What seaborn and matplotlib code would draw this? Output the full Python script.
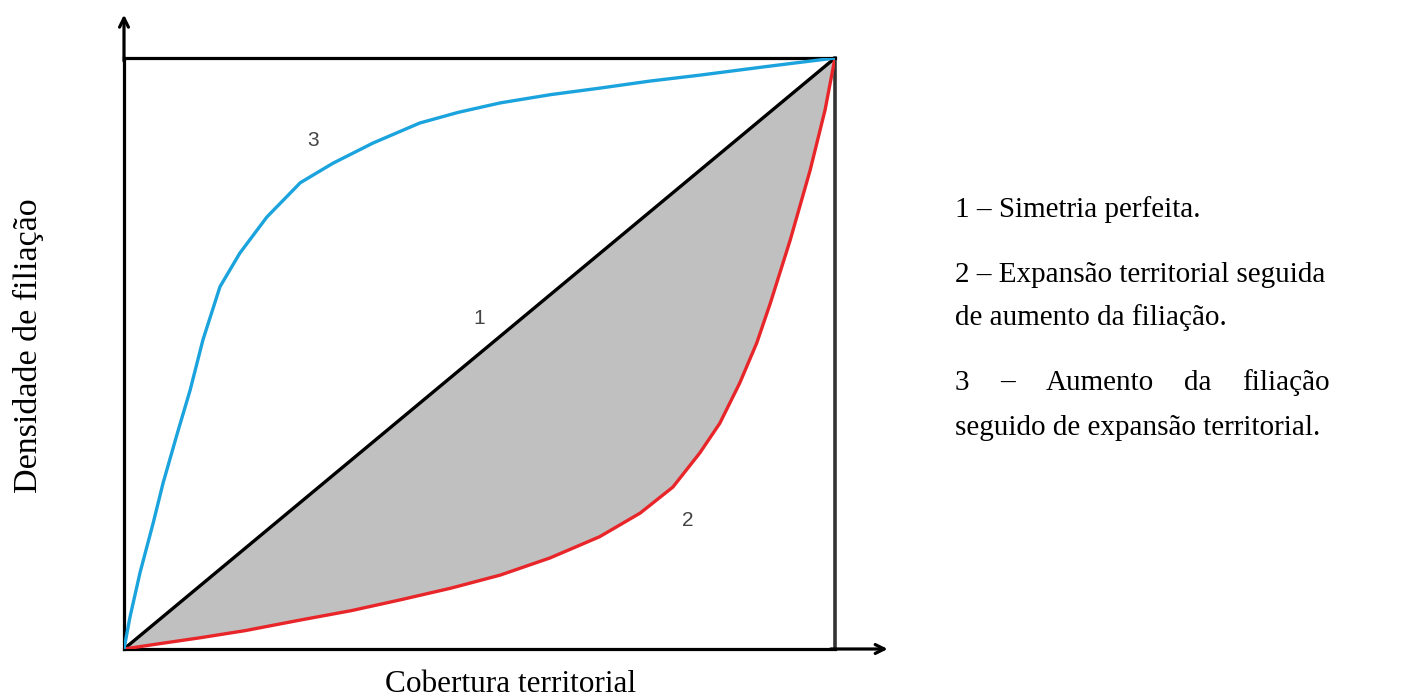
import numpy as np
import pandas as pd
import matplotlib
matplotlib.use("Agg")
import matplotlib.pyplot as plt
import seaborn as sns

# curves (fraction of box, 0..1)
diag_x = [0.0, 1.0]
diag_y = [0.0, 1.0]

red_x = [0.0, 0.05, 0.107, 0.17, 0.248, 0.32, 0.388, 0.46, 0.529, 0.599, 0.669, 0.726,
         0.772, 0.810, 0.838, 0.866, 0.890, 0.909, 0.937, 0.965, 0.986, 1.0]
red_y = [0.0, 0.009, 0.019, 0.031, 0.049, 0.065, 0.083, 0.103, 0.125, 0.154, 0.190, 0.230,
         0.274, 0.332, 0.382, 0.450, 0.518, 0.585, 0.692, 0.810, 0.912, 1.0]

blue_x = [0.0, 0.0084, 0.0225, 0.041, 0.055, 0.075, 0.093, 0.111, 0.135, 0.163,
          0.201, 0.248, 0.294, 0.350, 0.416, 0.47, 0.529, 0.60, 0.669, 0.74, 0.810, 0.90, 1.0]
blue_y = [0.0, 0.054, 0.129, 0.213, 0.281, 0.365, 0.438, 0.523, 0.613, 0.670,
          0.731, 0.789, 0.822, 0.856, 0.890, 0.908, 0.924, 0.938, 0.949, 0.961, 0.971, 0.985, 1.0]

curve_names = ["1", "2", "3"]
curve_colors = ["#000000", "#e8262a", "#1aa3dc"]
label_pos = [(0.50, 0.56), (0.793, 0.218), (0.266, 0.861)]

legend_lines = [
    "1 – Simetria perfeita.",
    "2 – Expansão territorial seguida",
    "de aumento da filiação.",
    "3 – Aumento da filiação",
    "seguido de expansão territorial.",
]
justified = [False, False, False, True, False]
xlabel = "Cobertura territorial"
ylabel = "Densidade de filiação"

df = pd.concat([
    pd.DataFrame({"x": diag_x, "y": diag_y, "curva": "1"}),
    pd.DataFrame({"x": red_x, "y": red_y, "curva": "2"}),
    pd.DataFrame({"x": blue_x, "y": blue_y, "curva": "3"}),
])

sns.set_theme(style="white")
plt.rcParams["font.family"] = ["Liberation Serif", "DejaVu Serif"]
plt.rcParams["text.color"] = "black"

fig = plt.figure(figsize=(14.02, 6.97), dpi=100)
ax = fig.add_axes([124 / 1402, 48 / 697, 711 / 1402, 591 / 697])

ax.fill_between(red_x, red_x, red_y, color="#c0c0c0", lw=0, zorder=1)
sns.lineplot(data=df, x="x", y="y", hue="curva", palette=dict(zip(curve_names, curve_colors)),
             estimator=None, sort=False, lw=2.4, legend=False, ax=ax, zorder=3)
for ln in ax.lines:
    ln.set_solid_joinstyle("round")
    ln.set_solid_capstyle("round")

ax.set_xlim(0, 1)
ax.set_ylim(0, 1)
ax.set_xticks([])
ax.set_yticks([])
ax.set_xlabel("")
ax.set_ylabel("")
for side in ["left", "bottom", "top"]:
    ax.spines[side].set_color("black")
    ax.spines[side].set_linewidth(2.3)
ax.spines["right"].set_color("#333333")
ax.spines["right"].set_linewidth(2.6)

# axis arrows
ax.annotate("", xy=(0, 1.078), xytext=(0, 0.99), xycoords="axes fraction",
            arrowprops=dict(arrowstyle="->", lw=2.3, color="black", mutation_scale=16))
ax.annotate("", xy=(1.078, 0), xytext=(0.99, 0), xycoords="axes fraction",
            arrowprops=dict(arrowstyle="->", lw=2.3, color="black", mutation_scale=16))

for name, (lx, ly) in zip(curve_names, label_pos):
    ax.text(lx, ly, name, fontsize=15, color="#444444", ha="center", va="center",
            family=["Liberation Sans", "DejaVu Sans"], zorder=4)

fig.text(511 / 1402, 1 - 685 / 697, xlabel, fontsize=22.5, ha="center", va="center")
fig.text(28 / 1402, 1 - 346 / 697, ylabel, fontsize=24.5, rotation=90, ha="center", va="center")

# right-hand text block
left_px, right_px = 955, 1330
text_y = [210, 275, 318, 383, 428]
renderer = fig.canvas.get_renderer()
for line, ty, just in zip(legend_lines, text_y, justified):
    yy = 1 - ty / 697
    if not just:
        fig.text(left_px / 1402, yy, line, fontsize=21, ha="left", va="center")
        continue
    words = line.split(" ")
    items = [fig.text(0, yy, w, fontsize=21, ha="left", va="center") for w in words]
    widths = [t.get_window_extent(renderer).width for t in items]
    gap = (right_px - left_px - sum(widths)) / (len(words) - 1)
    x = left_px
    for t, w in zip(items, widths):
        t.set_x(x / 1402)
        x += w + gap

fig.savefig("out.png", dpi=100)
